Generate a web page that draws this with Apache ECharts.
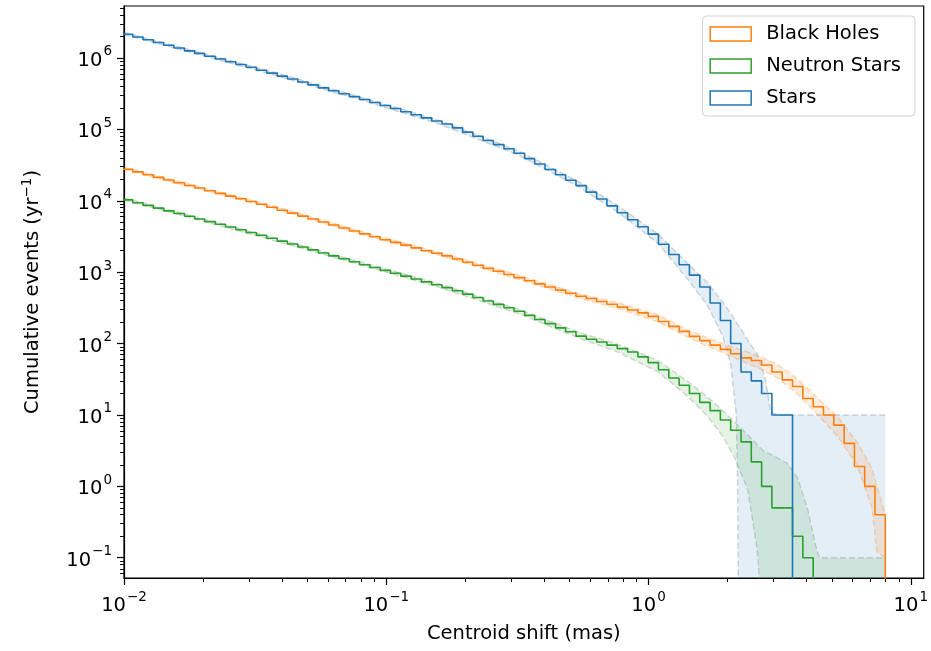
<!DOCTYPE html>
<html><head><meta charset="utf-8">
<script src="https://cdn.jsdelivr.net/npm/echarts@6/dist/echarts.min.js"></script>
<style>html,body{margin:0;padding:0;background:#fff}#c{width:931px;height:651px}</style>
</head><body><div id="c"></div>
<script>
// ---- data ----
const binEdges = [0.00986,0.0108,0.01182,0.01294,0.01417,0.0155,0.017,0.0186,0.0203,0.0223,
  0.0244,0.0267,0.0292,0.032,0.035,0.0384,0.042,0.046,0.0503,0.0551,
  0.0603,0.066,0.0723,0.0791,0.0866,0.0948,0.1038,0.1136,0.1244,0.1361,
  0.149,0.1632,0.1786,0.1955,0.214,0.234,0.256,0.281,0.307,0.337,
  0.368,0.403,0.442,0.483,0.529,0.579,0.634,0.694,0.76,0.832,
  0.911,0.997,1.091,1.195,1.308,1.432,1.568,1.717,1.879,2.057,
  2.252,2.465,2.699,2.954,3.234,3.54,3.876,4.244,4.645,5.088,
  5.569,6.096,6.672,7.303,7.993];

const stars = [2150000,1970000,1800000,1650000,1510000,1380000,1260000,1160000,1060000,968000,
  885000,811000,741000,675000,614000,558000,508000,462000,420000,382000,
  348000,316000,288000,262000,238000,216000,196000,177000,160000,145000,
  131000,119000,105000,91600,80200,70000,61200,53500,46300,38900,
  32700,27400,23100,19400,16300,13200,10600,8490,6790,5410,
  4320,3410,2460,1770,1270,910,620,370,210,100,
  40,30,20,10,10,0,0,0,0,0,
  0,0,0,0];

const blackHoles = [27600,25400,23200,21300,19500,17900,16400,15100,13800,12700,
  11600,10700,9770,8930,8130,7380,6710,6100,5550,5040,
  4580,4160,3780,3440,3130,2840,2610,2390,2190,2000,
  1840,1690,1530,1380,1250,1130,1030,927,838,757,
  685,619,561,507,459,427,389,355,324,295,
  269,240,204,174,148,126,110,95,83,72,
  63,58,50,40,31,25,17,13,10,7.2,
  4,1.9,1.0,0.4];

const neutronStars = [10300,9400,8610,7890,7230,6620,6070,5560,5110,4680,
  4290,3930,3600,3290,2990,2720,2480,2250,2050,1860,
  1690,1540,1400,1270,1160,1060,964,879,802,731,
  667,608,548,492,441,395,354,317,283,248,
  217,190,166,146,127,115,105,95,85,76,
  65,54,43,33,26,20,15,11.5,8.5,6.1,
  4.2,2.2,1.0,0.5,0.5,0.2,0.1,0,0,0,
  0,0,0,0];

// uncertainty bands
const starsBandX  = [0.01,0.0194,0.0391,0.0787,0.158,0.319,0.54,0.765,1.09,1.41,1.68,1.92,2.06,2.16,2.185,2.22,2.39,2.60,2.79,2.92,3.10,7.99];
const starsBandLo = [2140000,1110000,550000,263000,120000,43700,15800,6920,2510,794,339,126,50,10,1.26,0,0,0,0,0,0,0];
const starsBandHi = [2290000,1200000,603000,288000,135000,50100,18600,8510,3390,1320,708,380,263,200,186,174,112,71,32,11.2,10,10];

const bhBandX  = [0.01,0.0194,0.0391,0.0787,0.158,0.319,0.54,0.765,1.09,1.41,1.68,1.92,2.13,2.39,2.72,3.10,3.70,4.40,5.24,6.24,7.11,7.43,7.99];
const bhBandLo = [27500,14600,7500,3470,1740,794,437,309,200,123,91.2,74.1,63.1,52.5,42.7,33.1,19.6,10.2,5.1,2.0,0.5,0.12,0.1];
const bhBandHi = [29500,15700,8040,3800,1910,912,501,372,251,155,120,100,87.1,75.9,63.1,51.3,31.6,17.4,9.55,4.17,1.78,1.0,0.4];

const nsBandX  = [0.01,0.0194,0.0391,0.0787,0.158,0.319,0.54,0.765,1.09,1.41,1.68,1.92,2.13,2.39,2.60,2.67,2.74,3.10,3.38,3.70,4.03,4.32,4.48,7.99];
const nsBandLo = [10200,5370,2630,1290,617,263,120,75.9,39.8,18.2,9.55,5.01,2.51,0.891,0.126,0.0316,0,0,0,0,0,0,0,0];
const nsBandHi = [11000,5750,2880,1410,692,302,145,97.7,57.5,29.5,17.8,11.5,7.94,5.25,3.80,3.47,3.16,2.51,2.09,1.32,0.5,0.158,0.1,0.1];

const xMajorTicks = [0.01, 0.1, 1, 10];
const yMajorTicks = [0.1, 1, 10, 100, 1000, 10000, 100000, 1000000];
const xRange = [0.01, 11.2];
const yRange = [0.052, 5.35e6];

// ---- helpers ----
const FONT = "'DejaVu Sans', sans-serif";
const FLOOR = 1e-4;                 // zero cannot be shown on a log axis
const nz = v => (v > 0 ? v : FLOOR);
const C_BH = '#ff7f0e', C_NS = '#2ca02c', C_ST = '#1f77b4';

function minorTicks(lo, hi) {
  const out = [];
  for (let e = Math.floor(Math.log10(lo)); e <= Math.ceil(Math.log10(hi)); e++)
    for (let m = 2; m <= 9; m++) { const v = +(m * Math.pow(10, e)).toPrecision(6); if (v >= lo && v <= hi) out.push(v); }
  return out;
}
function powLabel(v) {
  const e = Math.round(Math.log10(v));
  return '{b|10}{s|' + (e < 0 ? '\u2212' + (-e) : String(e)) + '}';
}
const richLbl = {
  b: { fontFamily: FONT, fontSize: 19.5, color: '#000', lineHeight: 26, verticalAlign: 'bottom' },
  s: { fontFamily: FONT, fontSize: 13.5, color: '#000', lineHeight: 26, verticalAlign: 'top', padding: [0, 0, 8, 1] }
};
function stepSeries(name, vals, color) {
  const d = vals.map((v, i) => [binEdges[i], nz(v)]);
  d.push([binEdges[vals.length], FLOOR]);
  return { name, type: 'line', step: 'end', data: d, showSymbol: false, symbol: 'none',
    lineStyle: { color, width: 1.6 }, itemStyle: { color }, z: 5, clip: true };
}
function bandFill(xs, lo, hi, fill) {
  return { type: 'custom', silent: true, z: 1, clip: true,
    data: [[xs[0], nz(hi[0])]],
    renderItem(params, api) {
      const pts = [];
      for (let i = 0; i < xs.length; i++) pts.push(api.coord([xs[i], nz(hi[i])]));
      for (let i = xs.length - 1; i >= 0; i--) pts.push(api.coord([xs[i], nz(lo[i])]));
      const cs = params.coordSys;
      return { type: 'polygon', shape: { points: pts }, style: { fill, stroke: null },
        clipPath: { type: 'rect', shape: { x: cs.x, y: cs.y, width: cs.width, height: cs.height } } };
    } };
}
function bandEdge(xs, vals, color) {
  return { type: 'line', silent: true, z: 2, data: xs.map((x, i) => [x, nz(vals[i])]),
    showSymbol: false, symbol: 'none', clip: true, lineStyle: { color, width: 1.4, type: [6, 3] } };
}

const chart = echarts.init(document.getElementById('c'), null, { renderer: 'canvas' });
chart.setOption({
  animation: false,
  backgroundColor: '#fff',
  grid: { left: 124, right: 5, top: 6, bottom: 73, show: true, borderColor: '#000', borderWidth: 1.2, backgroundColor: 'transparent' },
  legend: {
    data: [
      { name: 'Black Holes', itemStyle: { color: '#fff', borderColor: C_BH, borderWidth: 1.5 }, lineStyle: { opacity: 0 } },
      { name: 'Neutron Stars', itemStyle: { color: '#fff', borderColor: C_NS, borderWidth: 1.5 }, lineStyle: { opacity: 0 } },
      { name: 'Stars', itemStyle: { color: '#fff', borderColor: C_ST, borderWidth: 1.5 }, lineStyle: { opacity: 0 } }
    ],
    icon: 'rect', orient: 'vertical', right: 16, top: 16, itemWidth: 41, itemHeight: 14, itemGap: 10,
    padding: [7, 14, 7, 7], backgroundColor: 'rgba(255,255,255,0.8)', borderColor: '#d2d2d2', borderWidth: 1, borderRadius: 4,
    textStyle: { fontFamily: FONT, fontSize: 19.5, color: '#000', lineHeight: 22, padding: [0, 0, 0, 10] }
  },
  xAxis: [
    { type: 'log', logBase: 10, min: xRange[0], max: xRange[1],
      name: 'Centroid shift (mas)', nameLocation: 'middle', nameGap: 46,
      nameTextStyle: { fontFamily: FONT, fontSize: 19.5, color: '#000' },
      axisLine: { show: true, onZero: false, lineStyle: { color: '#000', width: 1.2 } },
      axisTick: { show: true, customValues: xMajorTicks, length: 7, lineStyle: { color: '#000', width: 1.2 } },
      axisLabel: { customValues: xMajorTicks, formatter: powLabel, margin: 12, rich: richLbl },
      splitLine: { show: false }, minorTick: { show: false } },
    { type: 'log', logBase: 10, min: xRange[0], max: xRange[1], position: 'bottom', offset: 0,
      axisLine: { show: false, onZero: false }, axisLabel: { show: false }, splitLine: { show: false },
      axisTick: { show: true, customValues: minorTicks(xRange[0], xRange[1]), length: 4, lineStyle: { color: '#000', width: 1 } } }
  ],
  yAxis: [
    { type: 'log', logBase: 10, min: yRange[0], max: yRange[1],
      name: 'Cumulative events (yr{s|\u22121})', nameLocation: 'middle', nameGap: 78, nameRotate: 90,
      nameTextStyle: { fontFamily: FONT, fontSize: 19.5, color: '#000',
        rich: { s: { fontFamily: FONT, fontSize: 13.5, color: '#000', verticalAlign: 'top', lineHeight: 26, padding: [0, 0, 8, 0] } } },
      axisLine: { show: true, onZero: false, lineStyle: { color: '#000', width: 1.2 } },
      axisTick: { show: true, customValues: yMajorTicks, length: 7, lineStyle: { color: '#000', width: 1.2 } },
      axisLabel: { customValues: yMajorTicks, formatter: powLabel, margin: 12, rich: richLbl },
      splitLine: { show: false }, minorTick: { show: false } },
    { type: 'log', logBase: 10, min: yRange[0], max: yRange[1], position: 'left', offset: 0,
      axisLine: { show: false, onZero: false }, axisLabel: { show: false }, splitLine: { show: false },
      axisTick: { show: true, customValues: minorTicks(yRange[0], yRange[1]), length: 4, lineStyle: { color: '#000', width: 1 } } }
  ],
  series: [
    bandFill(starsBandX, starsBandLo, starsBandHi, 'rgba(31,119,180,0.12)'),
    bandFill(bhBandX, bhBandLo, bhBandHi, 'rgba(255,127,14,0.13)'),
    bandFill(nsBandX, nsBandLo, nsBandHi, 'rgba(44,160,44,0.12)'),
    bandEdge(starsBandX, starsBandLo, 'rgba(110,120,130,0.3)'),
    bandEdge(starsBandX, starsBandHi, 'rgba(110,120,130,0.3)'),
    bandEdge(bhBandX, bhBandLo, 'rgba(255,127,14,0.28)'),
    bandEdge(bhBandX, bhBandHi, 'rgba(255,127,14,0.28)'),
    bandEdge(nsBandX, nsBandLo, 'rgba(110,130,110,0.3)'),
    bandEdge(nsBandX, nsBandHi, 'rgba(110,130,110,0.3)'),
    stepSeries('Neutron Stars', neutronStars, C_NS),
    stepSeries('Black Holes', blackHoles, C_BH),
    stepSeries('Stars', stars, C_ST)
  ]
});
</script></body></html>
